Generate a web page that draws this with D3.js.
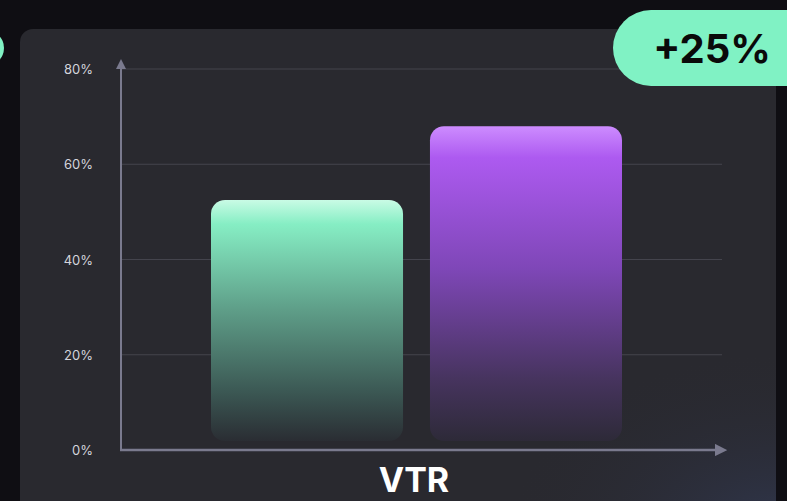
<!DOCTYPE html>
<html>
<head>
<meta charset="utf-8">
<script src="https://cdn.jsdelivr.net/npm/d3@7"></script>
<style>
  body { margin:0; background:#0f0e13; overflow:hidden; }
  svg { display:block; }
</style>
</head>
<body>
<div id="allContainer"></div>
<script>
// data
var categories = ["A", "B"];
var values = [52.5, 68];
var tickValues = [0, 20, 40, 60, 80];
var tickLabels = ["0%", "20%", "40%", "60%", "80%"];
var axisLabel = "VTR";
var badgeText = "+25%";

var W = 787, H = 501;
var margin = { left:121, right:65, top:69, bottom:51 };
var wid = W - margin.left - margin.right;
var hei = H - margin.top - margin.bottom;

var svg = d3.select("#allContainer")
    .append("svg")
    .attr("width", W)
    .attr("height", H);

var defs = svg.append("defs");

// bar gradients
var gGreen = defs.append("linearGradient").attr("id","gradGreen")
    .attr("x1",0).attr("y1",0).attr("x2",0).attr("y2",1);
gGreen.append("stop").attr("offset","0%").attr("stop-color","#c9fbe5");
gGreen.append("stop").attr("offset","10%").attr("stop-color","#86eec4");
gGreen.append("stop").attr("offset","45%").attr("stop-color","#5f9f89");
gGreen.append("stop").attr("offset","80%").attr("stop-color","#3b5753");
gGreen.append("stop").attr("offset","100%").attr("stop-color","#2a2d33");

var gPurple = defs.append("linearGradient").attr("id","gradPurple")
    .attr("x1",0).attr("y1",0).attr("x2",0).attr("y2",1);
gPurple.append("stop").attr("offset","0%").attr("stop-color","#cd8cff");
gPurple.append("stop").attr("offset","10%").attr("stop-color","#ad5af0");
gPurple.append("stop").attr("offset","45%").attr("stop-color","#7f47b8");
gPurple.append("stop").attr("offset","80%").attr("stop-color","#47345f");
gPurple.append("stop").attr("offset","100%").attr("stop-color","#2d2a38");

var glow = defs.append("radialGradient").attr("id","glow")
    .attr("cx","100%").attr("cy","100%").attr("r","35%");
glow.append("stop").attr("offset","0%").attr("stop-color","#313953").attr("stop-opacity",0.8);
glow.append("stop").attr("offset","100%").attr("stop-color","#2a2a32").attr("stop-opacity",0);

defs.append("marker").attr("id","arrUp")
    .attr("viewBox","0 0 10 10").attr("refX",5).attr("refY",5)
    .attr("markerWidth",5).attr("markerHeight",5).attr("orient","auto")
    .append("path").attr("d","M0,0 L10,5 L0,10 Z").attr("fill","#7a7a8e");

// left partial pill
svg.append("rect")
    .attr("x",-40).attr("y",30).attr("width",44).attr("height",36)
    .attr("rx",18).attr("fill","#80f2c4");

// panel
svg.append("rect")
    .attr("x",20).attr("y",29).attr("width",756).attr("height",500)
    .attr("rx",13).attr("fill","#29292f");
svg.append("rect")
    .attr("x",20).attr("y",29).attr("width",756).attr("height",500)
    .attr("rx",13).attr("fill","url(#glow)");

var g = svg.append("g")
    .attr("transform","translate(" + margin.left + "," + margin.top + ")");

var yScale = d3.scaleLinear().domain([0, 80]).range([hei, 0]);
var xScale = d3.scaleBand().domain(categories).range([90, 501]).paddingInner(0.123);

// gridlines
g.append("g").attr("class","grid")
    .selectAll("line")
    .data(tickValues.filter(function(d){ return d > 0; }))
    .enter().append("line")
    .attr("x1",0).attr("x2",601)
    .attr("y1",function(d){ return yScale(d); })
    .attr("y2",function(d){ return yScale(d); })
    .attr("stroke","#44444d").attr("stroke-width",1);

// tick labels
g.append("g").attr("class","y labels")
    .selectAll("text")
    .data(tickValues)
    .enter().append("text")
    .attr("x",-28)
    .attr("y",function(d){ return yScale(d) + 5; })
    .attr("text-anchor","end")
    .attr("font-family","Inter, 'Noto Sans', sans-serif")
    .attr("font-size",13)
    .attr("fill","#d4d4dc")
    .text(function(d,i){ return tickLabels[i]; });

// bars, fade out at bottom
var fills = ["url(#gradGreen)", "url(#gradPurple)"];
g.append("g").attr("class","bars")
    .selectAll("rect")
    .data(values)
    .enter().append("rect")
    .attr("x",function(d,i){ return xScale(categories[i]); })
    .attr("y",function(d){ return yScale(d); })
    .attr("width",xScale.bandwidth())
    .attr("height",function(d){ return yScale(0) - yScale(d) - 9; })
    .attr("rx",14)
    .attr("fill",function(d,i){ return fills[i]; });

// axes
g.append("line")
    .attr("x1",0).attr("x2",0)
    .attr("y1",yScale(0) + 1).attr("y2",-5)
    .attr("stroke","#7a7a8e").attr("stroke-width",2)
    .attr("marker-end","url(#arrUp)");
g.append("line")
    .attr("x1",-1).attr("x2",600)
    .attr("y1",yScale(0)).attr("y2",yScale(0))
    .attr("stroke","#7a7a8e").attr("stroke-width",2.5)
    .attr("marker-end","url(#arrUp)");

// x label
svg.append("text")
    .attr("x",414).attr("y",492)
    .attr("text-anchor","middle")
    .attr("font-family","Inter, 'Noto Sans', sans-serif")
    .attr("font-weight",700)
    .attr("font-size",34)
    .attr("fill","#ffffff")
    .text(axisLabel);

// badge
svg.append("rect")
    .attr("x",613).attr("y",10).attr("width",220).attr("height",76)
    .attr("rx",38).attr("fill","#80f2c4");
svg.append("text")
    .attr("x",712).attr("y",63)
    .attr("text-anchor","middle")
    .attr("font-family","Inter, 'Noto Sans', sans-serif")
    .attr("font-weight",700)
    .attr("font-size",40)
    .attr("fill","#0a0a0a")
    .text(badgeText);
</script>
</body>
</html>
